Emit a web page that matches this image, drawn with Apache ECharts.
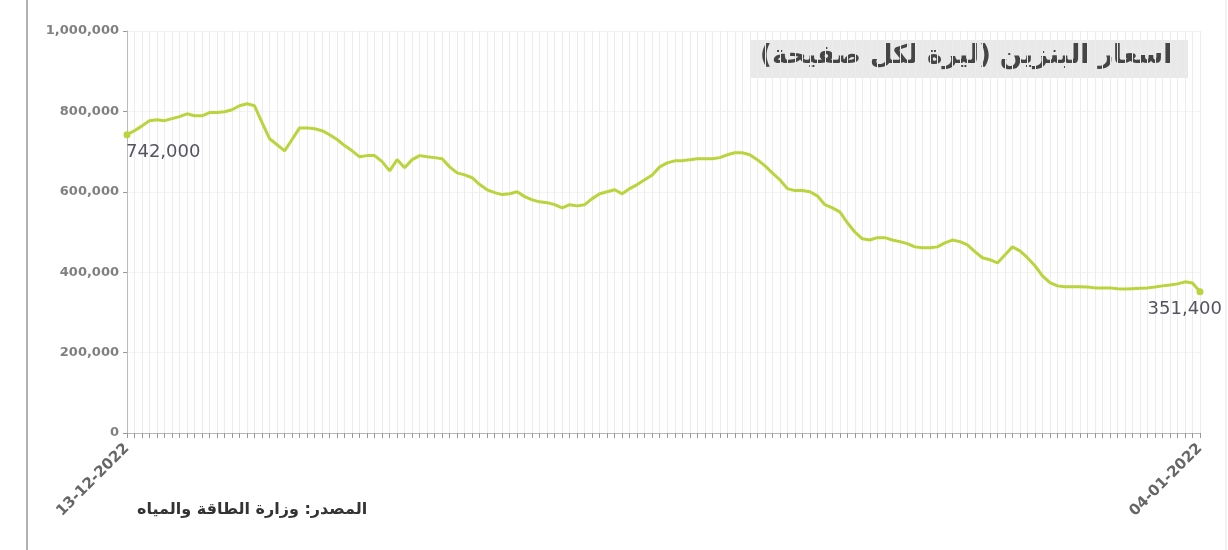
<!DOCTYPE html>
<html>
<head>
<meta charset="utf-8">
<script src="https://cdn.jsdelivr.net/npm/echarts@6/dist/echarts.min.js"></script>
<style>
html,body{margin:0;padding:0;background:#fff;}
#chart{width:1228px;height:550px;}
</style>
</head>
<body>
<div id="chart"></div>
<script>
var title = "اسعار البنزين (ليرة لكل صفيحة)";
var source = "المصدر: وزارة الطاقة والمياه";
var firstDate = "13-12-2022";
var lastDate = "04-01-2022";
var yTicks = [0, 200000, 400000, 600000, 800000, 1000000];
var prices = [
742000,752000,764000,777000,779000,777000,782000,787000,794000,789000,
789000,797000,797000,799000,804000,814000,819000,814000,772000,732000,
717000,702000,730000,759000,759000,757000,752000,742000,730000,715000,
702000,687000,690000,690000,675000,652000,680000,660000,680000,690000,
687000,685000,682000,662000,647000,642000,635000,618000,605000,598000,
593000,595000,600000,588000,580000,575000,573000,568000,560000,568000,
565000,568000,583000,595000,600000,605000,595000,608000,618000,630000,
642000,662000,672000,677000,677000,680000,682000,682000,682000,685000,
692000,697000,697000,692000,680000,665000,647000,630000,608000,603000,
603000,600000,590000,568000,560000,550000,523000,500000,483000,480000,
486000,486000,480000,476000,471000,463000,461000,461000,463000,473000,
480000,476000,468000,451000,436000,431000,423000,443000,463000,453000,
436000,416000,391000,374000,366000,364000,364000,364000,363000,361000,
361000,361000,359000,358000,359000,360000,361000,363000,366000,368000,
371000,376000,373000,351400
];
var categories = prices.map(function(_, i){
  return i === 0 ? firstDate : (i === prices.length - 1 ? lastDate : String(i));
});
var n = prices.length;
var seriesData = prices.map(function(v, i){
  if (i === 0) {
    return {value: v, symbol: 'circle', symbolSize: 7,
      label: {show: true, position: 'bottom', align: 'left', offset: [-1, 0]}};
  }
  if (i === n - 1) {
    return {value: v, symbol: 'circle', symbolSize: 7,
      label: {show: true, position: 'bottom', align: 'right', offset: [22, 0]}};
  }
  return {value: v, symbol: 'none'};
});

var chart = echarts.init(document.getElementById('chart'));
var fmt = function(v){ return Number(v).toLocaleString('en-US'); };
chart.setOption({
  animation: false,
  backgroundColor: '#fff',
  grid: {left: 127, right: 28, top: 31, bottom: 117},
  xAxis: {
    type: 'category',
    data: categories,
    boundaryGap: false,
    axisLine: {lineStyle: {color: '#bbb', width: 1}},
    axisTick: {show: true, interval: 0, length: 5, lineStyle: {color: '#999'}},
    axisLabel: {
      interval: 0, rotate: 45, margin: 13,
      color: '#666', fontFamily: 'DejaVu Sans', fontSize: 15, fontWeight: 'bold',
      formatter: function(v, i){ return (i === 0 || i === n - 1) ? v : ''; }
    },
    splitLine: {show: true, interval: 0, lineStyle: {color: '#ececec', width: 1}}
  },
  yAxis: {
    type: 'value', min: 0, max: 1000000, interval: 200000,
    axisLine: {show: true, lineStyle: {color: '#bbb'}},
    axisTick: {show: true, length: 4, lineStyle: {color: '#999'}},
    axisLabel: {color: '#808080', fontFamily: 'DejaVu Sans', fontSize: 13, fontWeight: 'bold',
      margin: 8, formatter: function(v){ return yTicks.indexOf(v) >= 0 ? fmt(v) : ''; }},
    splitLine: {show: true, lineStyle: {color: '#f3f3f3'}}
  },
  series: [{
    type: 'line',
    data: seriesData,
    showSymbol: true,
    lineStyle: {color: '#bad43e', width: 3},
    itemStyle: {color: '#bad43e'},
    label: {color: '#555560', fontFamily: 'DejaVu Sans', fontSize: 18,
      formatter: function(p){ return fmt(p.value); }}
  }],
  graphic: [
    {type: 'line', shape: {x1: 27, y1: 0, x2: 27, y2: 550}, style: {stroke: '#999', lineWidth: 1.5}},
    {type: 'line', shape: {x1: 1226, y1: 0, x2: 1226, y2: 550}, style: {stroke: '#e6e6e6', lineWidth: 1}},
    {type: 'rect', shape: {x: 751, y: 40, width: 437, height: 38}, style: {fill: '#e9e9e9'}},
    {type: 'text', left: 760, top: 43,
      style: {text: title, fill: '#454545', font: 'bold 26px "DejaVu Sans"'}},
    {type: 'text', left: 137, top: 502,
      style: {text: source, fill: '#333', font: 'bold 16px "DejaVu Sans"'}}
  ]
});
</script>
</body>
</html>
